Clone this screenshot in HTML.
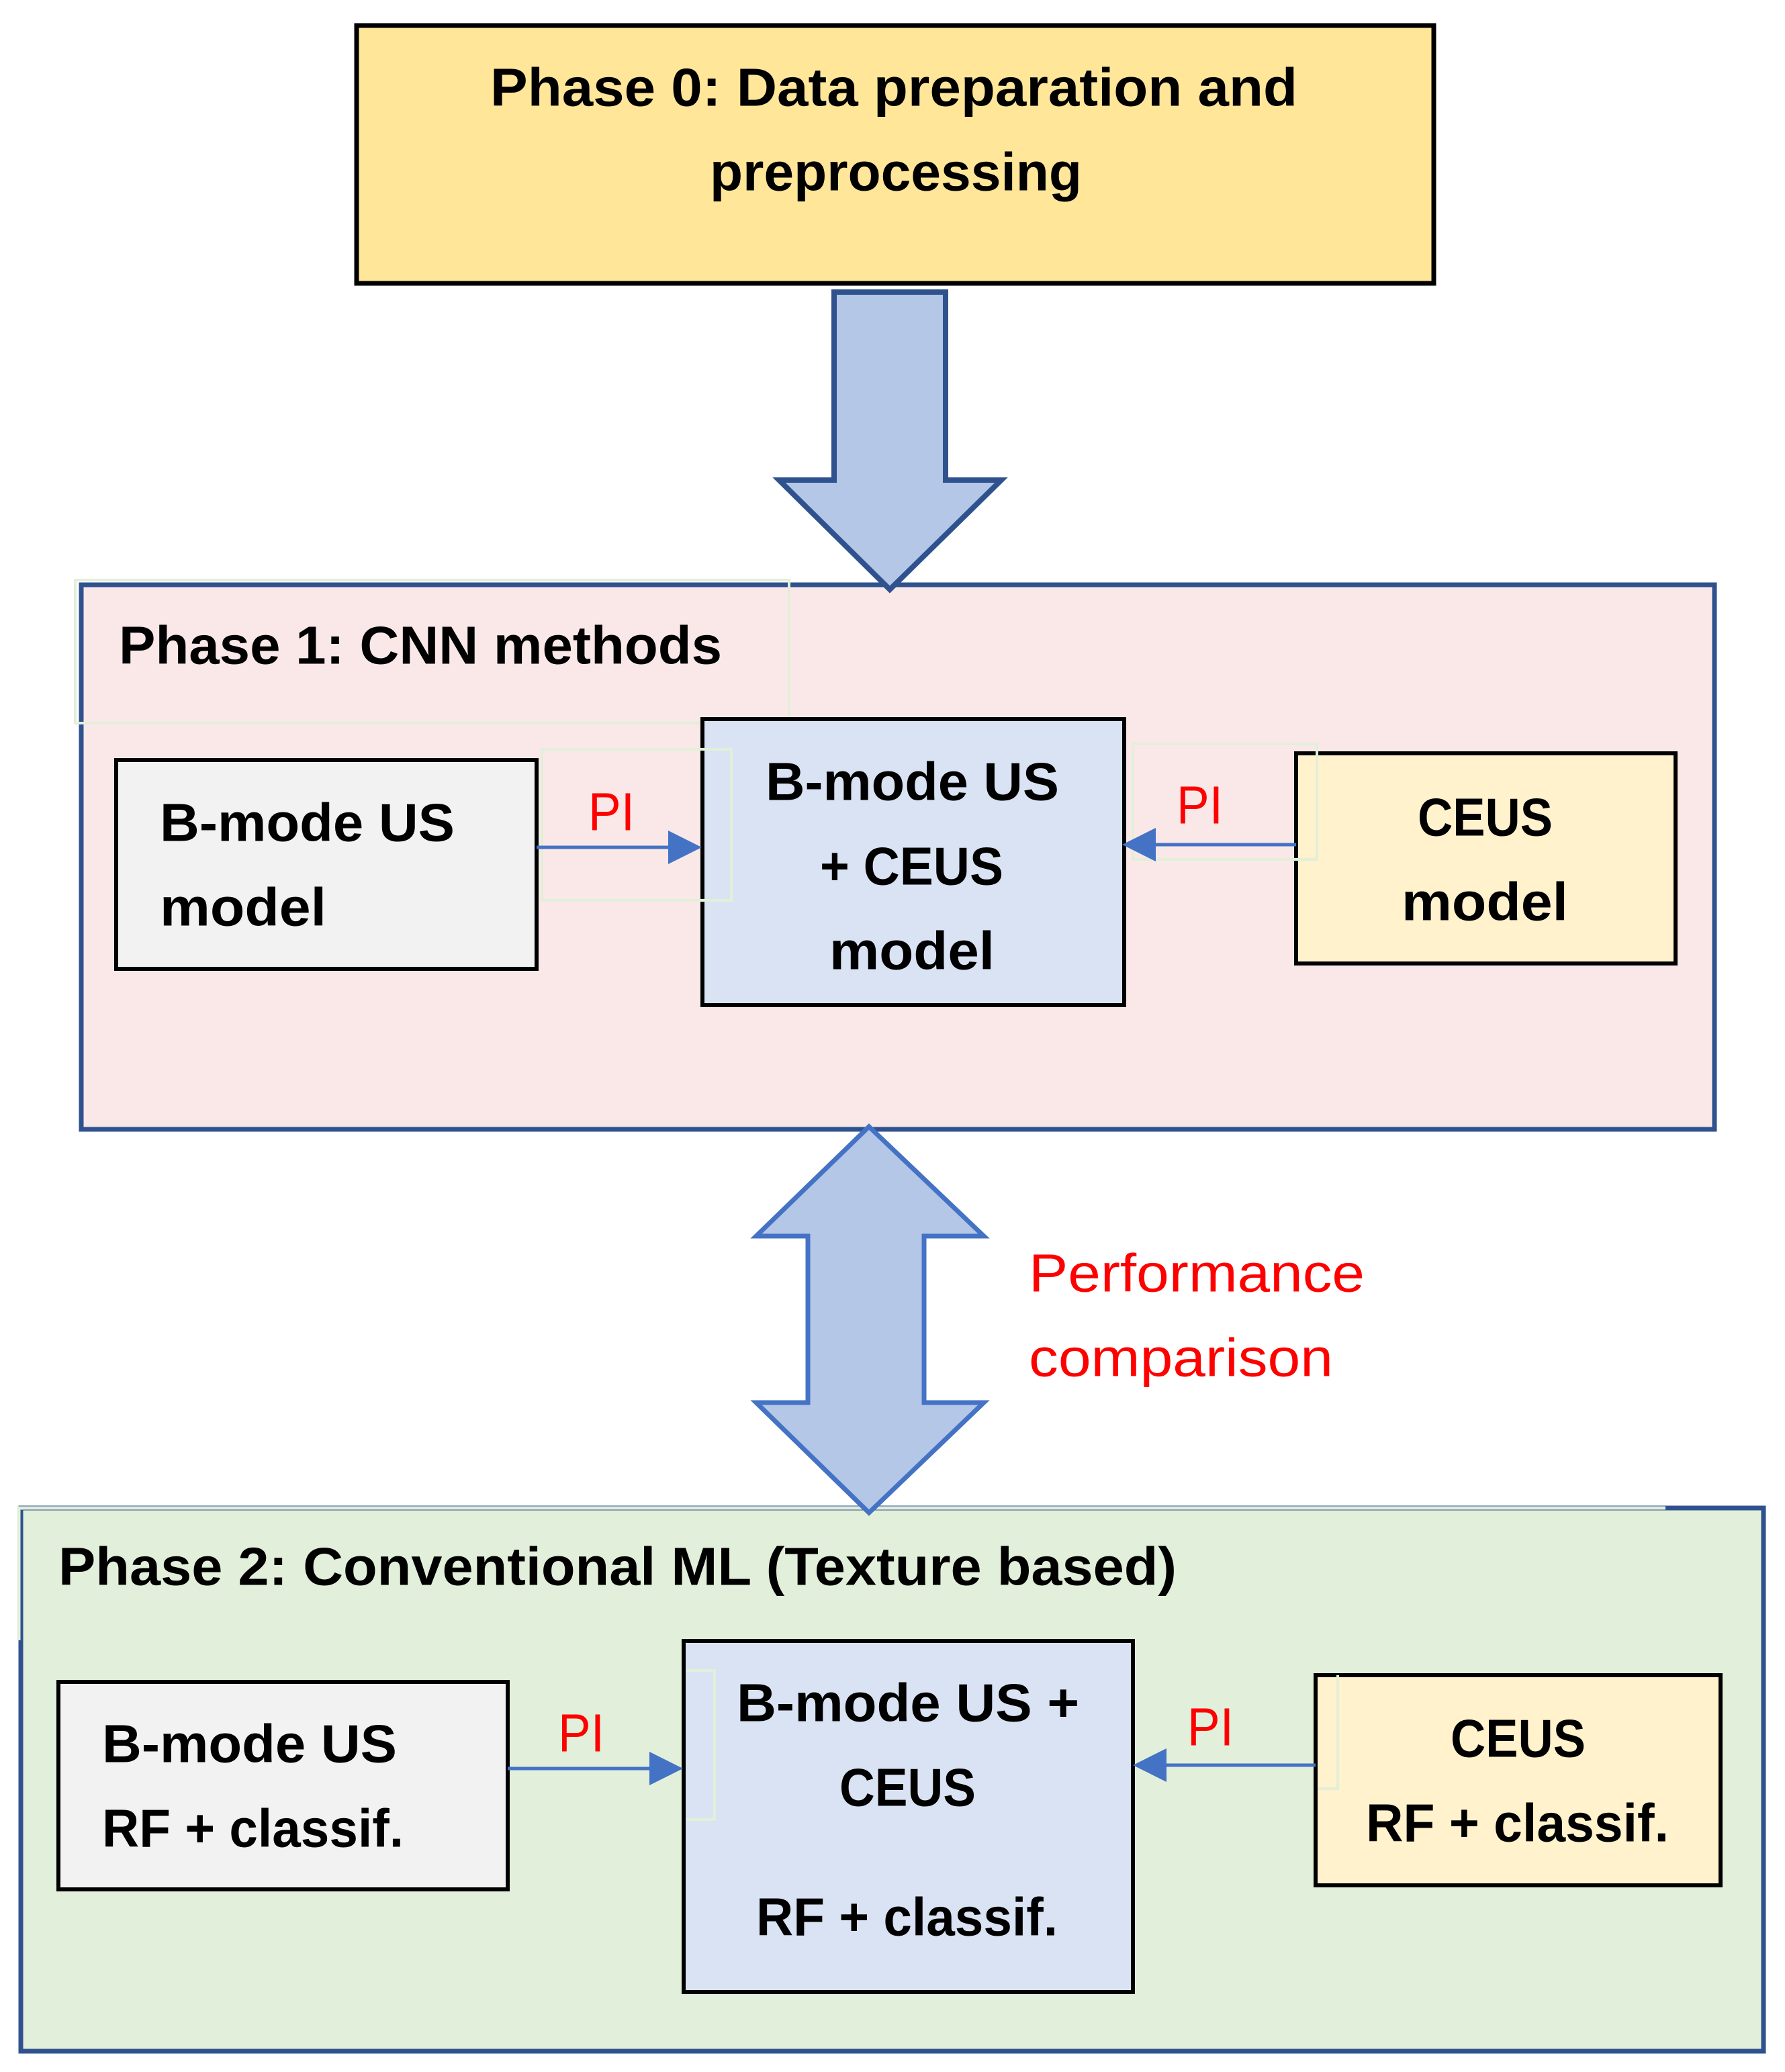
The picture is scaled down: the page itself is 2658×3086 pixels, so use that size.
<!DOCTYPE html>
<html><head><meta charset="utf-8"><style>html,body{margin:0;padding:0;background:#fff}svg{display:block}</style></head><body>
<svg width="2658" height="3086" viewBox="0 0 2658 3086" xmlns="http://www.w3.org/2000/svg" font-family="Liberation Sans, sans-serif">
<defs>
<marker id="ah" markerWidth="10" markerHeight="10" refX="9" refY="5" orient="auto" markerUnits="strokeWidth"><path d="M0,0 L10,5 L0,10 z" fill="#4472C4"/></marker>
</defs>
<rect x="531" y="38" width="1604" height="384" fill="#FFE699" stroke="#000" stroke-width="7"/>
<g font-weight="bold" font-size="80" fill="#000" dominant-baseline="central">
<text x="730" y="130" textLength="1202" lengthAdjust="spacingAndGlyphs">Phase 0: Data preparation and</text>
<text x="1057" y="256" textLength="554" lengthAdjust="spacingAndGlyphs">preprocessing</text>
</g>
<rect x="121" y="871" width="2432" height="811" fill="#FAE8E8" stroke="#2F528F" stroke-width="7"/>
<path d="M1242,435 L1408,435 L1408,715 L1491,715 L1325,878 L1160,715 L1242,715 Z" fill="#B4C7E7" stroke="#2F528F" stroke-width="8"/>
<rect x="112" y="864" width="1063" height="213" fill="none" stroke="#E2EFD9" stroke-width="4"/>
<rect x="173" y="1132" width="626" height="311" fill="#F2F2F2" stroke="#000" stroke-width="6"/>
<rect x="1046" y="1071" width="628" height="426" fill="#DAE3F3" stroke="#000" stroke-width="6"/>
<rect x="1930" y="1122" width="565" height="313" fill="#FFF2CC" stroke="#000" stroke-width="6"/>
<rect x="807" y="1116" width="282" height="225" fill="none" stroke="#E2EFD9" stroke-width="4"/>
<rect x="1687" y="1108" width="274" height="172" fill="none" stroke="#E2EFD9" stroke-width="4"/>
<line x1="799" y1="1262" x2="1040" y2="1262" stroke="#4472C4" stroke-width="5" marker-end="url(#ah)"/>
<line x1="1930" y1="1258" x2="1676" y2="1258" stroke="#4472C4" stroke-width="5" marker-end="url(#ah)"/>
<g font-weight="bold" font-size="80" fill="#000" dominant-baseline="central">
<text x="177" y="961" textLength="898" lengthAdjust="spacingAndGlyphs">Phase 1: CNN methods</text>
<text x="238" y="1225" textLength="439" lengthAdjust="spacingAndGlyphs">B-mode US</text>
<text x="238" y="1351" textLength="248" lengthAdjust="spacingAndGlyphs">model</text>
<text x="1140" y="1164" textLength="437" lengthAdjust="spacingAndGlyphs">B-mode US</text>
<text x="1221" y="1290" textLength="273" lengthAdjust="spacingAndGlyphs">+ CEUS</text>
<text x="1235" y="1416" textLength="246" lengthAdjust="spacingAndGlyphs">model</text>
<text x="2111" y="1217" textLength="201" lengthAdjust="spacingAndGlyphs">CEUS</text>
<text x="2087" y="1343" textLength="248" lengthAdjust="spacingAndGlyphs">model</text>
</g>
<g font-size="80" fill="#FF0000" dominant-baseline="central">
<text x="876" y="1209" textLength="69" lengthAdjust="spacingAndGlyphs">PI</text>
<text x="1752" y="1199" textLength="69" lengthAdjust="spacingAndGlyphs">PI</text>
<text x="1532" y="1896" textLength="500" lengthAdjust="spacingAndGlyphs">Performance</text>
<text x="1532" y="2022" textLength="453" lengthAdjust="spacingAndGlyphs">comparison</text>
</g>
<rect x="31" y="2246" width="2595" height="809" fill="#E2EFDA" stroke="#2F528F" stroke-width="7"/>
<path d="M28,2443 L28,2246 L2480,2246" fill="none" stroke="#E2EFD9" stroke-width="5"/>
<path d="M1294,1678 L1465,1841 L1376,1841 L1376,2089 L1465,2089 L1294,2253 L1126,2089 L1203,2089 L1203,1841 L1126,1841 Z" fill="#B4C7E7" stroke="#4472C4" stroke-width="7"/>
<rect x="87" y="2505" width="669" height="309" fill="#F2F2F2" stroke="#000" stroke-width="6"/>
<rect x="1018" y="2444" width="669" height="523" fill="#DAE3F3" stroke="#000" stroke-width="6"/>
<rect x="1959" y="2495" width="603" height="313" fill="#FFF2CC" stroke="#000" stroke-width="6"/>
<path d="M1022,2488 L1064,2488 L1064,2710 L1022,2710" fill="none" stroke="#E2EFD9" stroke-width="4"/>
<path d="M1992,2495 L1992,2664 L1962,2664" fill="none" stroke="#E2EFD9" stroke-width="4"/>
<line x1="756" y1="2634" x2="1012" y2="2634" stroke="#4472C4" stroke-width="5" marker-end="url(#ah)"/>
<line x1="1959" y1="2629" x2="1692" y2="2629" stroke="#4472C4" stroke-width="5" marker-end="url(#ah)"/>
<g font-weight="bold" font-size="80" fill="#000" dominant-baseline="central">
<text x="87" y="2333" textLength="1665" lengthAdjust="spacingAndGlyphs">Phase 2: Conventional ML (Texture based)</text>
<text x="152" y="2597" textLength="439" lengthAdjust="spacingAndGlyphs">B-mode US</text>
<text x="152" y="2723" textLength="449" lengthAdjust="spacingAndGlyphs">RF + classif.</text>
<text x="1097" y="2536" textLength="510" lengthAdjust="spacingAndGlyphs">B-mode US +</text>
<text x="1250" y="2662" textLength="203" lengthAdjust="spacingAndGlyphs">CEUS</text>
<text x="1126" y="2855" textLength="449" lengthAdjust="spacingAndGlyphs">RF + classif.</text>
<text x="2160" y="2589" textLength="201" lengthAdjust="spacingAndGlyphs">CEUS</text>
<text x="2034" y="2715" textLength="451" lengthAdjust="spacingAndGlyphs">RF + classif.</text>
</g>
<g font-size="80" fill="#FF0000" dominant-baseline="central">
<text x="831" y="2581" textLength="69" lengthAdjust="spacingAndGlyphs">PI</text>
<text x="1768" y="2572" textLength="69" lengthAdjust="spacingAndGlyphs">PI</text>
</g>
</svg>
</body></html>
